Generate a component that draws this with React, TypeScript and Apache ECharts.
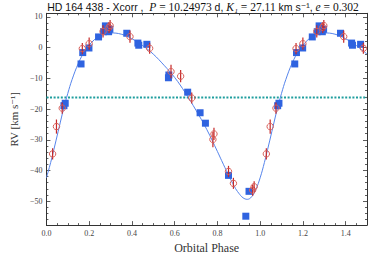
import React, { useEffect, useRef } from "react";
import * as echarts from "echarts";

// Model RV curve (phase, km/s)
const curvePhase = [0, 0.02, 0.04, 0.06, 0.08, 0.1, 0.12, 0.15, 0.18, 0.2, 0.25, 0.3, 0.35, 0.4, 0.45, 0.5, 0.55, 0.6, 0.65, 0.7, 0.75, 0.8, 0.82, 0.85, 0.88, 0.9, 0.92, 0.94, 0.96, 0.98, 1.0];
const curveRV = [-42.4, -37.4, -31.7, -25.8, -20.0, -14.9, -10.4, -5.0, -1.0, 0.9, 3.9, 4.8, 4.4, 2.9, 0.7, -2.1, -5.7, -9.7, -14.7, -20.4, -26.6, -33.8, -36.8, -41.2, -45.3, -47.4, -48.9, -49.4, -48.6, -46.2, -42.4];

// Blue squares
const bluePhase = [0.082, 0.088, 0.162, 0.17, 0.199, 0.244, 0.267, 0.276, 0.291, 0.297, 0.376, 0.428, 0.432, 0.47, 0.571, 0.573, 0.661, 0.719, 0.744, 0.852, 0.933, 0.948];
const blueRV = [-18.9, -18.1, -5.3, -1.6, -0.1, 3.5, 5.2, 7.1, 5.2, 6.0, 4.7, 1.5, 0.8, 1.1, -9.8, -8.9, -14.5, -21.2, -24.6, -41.6, -54.9, -46.8];

// Red circles with error bars
const redPhase = [0.029, 0.047, 0.074, 0.168, 0.2, 0.265, 0.293, 0.298, 0.391, 0.483, 0.583, 0.628, 0.68, 0.779, 0.784, 0.852, 0.875, 0.965, 0.972];
const redRV = [-34.6, -25.7, -19.7, -0.3, 1.3, 5.3, 6.6, 7.2, 3.6, -0.2, -7.8, -9.3, -16.4, -29.9, -28.1, -40.3, -44.2, -46.4, -45.3];
const redErr = [1.8, 2.3, 1.8, 1.8, 2.0, 2.0, 1.8, 1.8, 2.0, 1.8, 2.2, 2.0, 1.8, 2.5, 2.0, 1.8, 1.8, 1.8, 1.8];

const systemicV = -16.2;

const xMajor = [0, 0.2, 0.4, 0.6, 0.8, 1.0, 1.2, 1.4];
const xMinor = [0.05, 0.1, 0.15, 0.25, 0.3, 0.35, 0.45, 0.5, 0.55, 0.65, 0.7, 0.75, 0.85, 0.9, 0.95, 1.05, 1.1, 1.15, 1.25, 1.3, 1.35, 1.45];
const yMajor = [-50, -40, -30, -20, -10, 0, 10];
const yMinor = [-56, -54, -52, -48, -46, -44, -42, -38, -36, -34, -32, -28, -26, -24, -22, -18, -16, -14, -12, -8, -6, -4, -2, 2, 4, 6, 8];

const X_MIN = 0, X_MAX = 1.5, Y_MIN = -57.8, Y_MAX = 11.2;

const SERIF = "'Liberation Serif', 'DejaVu Serif', serif";
const SANS = "'Liberation Sans', 'DejaVu Sans', sans-serif";
const AX = "#333";

function withRepeat(ph: number[], vals: number[][]): number[][] {
  const out: number[][] = [];
  ph.forEach((p, i) => out.push([p, ...vals.map((v) => v[i])]));
  ph.forEach((p, i) => {
    if (p + 1 <= X_MAX) out.push([p + 1, ...vals.map((v) => v[i])]);
  });
  return out;
}

export default function App() {
  const ref = useRef<HTMLDivElement>(null);
  useEffect(() => {
    if (!ref.current) return;
    const chart = echarts.init(ref.current, undefined, { renderer: "svg" });

    const curveData: number[][] = curvePhase.map((p, i) => [p, curveRV[i]]);
    curvePhase.forEach((p, i) => {
      if (p > 0 && p + 1 <= X_MAX) curveData.push([p + 1, curveRV[i]]);
    });
    const blueData = withRepeat(bluePhase, [blueRV]);
    const redData = withRepeat(redPhase, [redRV, redErr]);

    const fmtMinus = (v: number) => (v < 0 ? "\u2212" + Math.abs(v) : String(v));

    const mkX = (pos: "bottom" | "top", ticks: number[], len: number, labels: boolean, line: boolean) => ({
      type: "value",
      min: X_MIN,
      max: X_MAX,
      position: pos,
      gridIndex: 0,
      axisLine: { show: line, onZero: false, lineStyle: { color: AX, width: 1 } },
      axisTick: { show: true, inside: true, length: len, customValues: ticks, lineStyle: { color: AX, width: 0.8 } },
      axisLabel: labels
        ? { show: true, customValues: xMajor, formatter: (v: number) => v.toFixed(1), fontFamily: SERIF, fontSize: 8, color: "#444", margin: 4 }
        : { show: false },
      splitLine: { show: false },
    });
    const mkY = (pos: "left" | "right", ticks: number[], len: number, labels: boolean, line: boolean) => ({
      type: "value",
      min: Y_MIN,
      max: Y_MAX,
      position: pos,
      gridIndex: 0,
      axisLine: { show: line, onZero: false, lineStyle: { color: AX, width: 1 } },
      axisTick: { show: true, inside: true, length: len, customValues: ticks, lineStyle: { color: AX, width: 0.8 } },
      axisLabel: labels
        ? { show: true, customValues: yMajor, formatter: fmtMinus, fontFamily: SERIF, fontSize: 8, color: "#444", margin: 4 }
        : { show: false },
      splitLine: { show: false },
    });

    const xAxes: any[] = [
      mkX("bottom", xMajor, 4, true, true),
      mkX("bottom", xMinor, 2, false, false),
      mkX("top", xMajor, 4, false, true),
      mkX("top", xMinor, 2, false, false),
    ];
    xAxes[0].name = "Orbital Phase";
    xAxes[0].nameLocation = "middle";
    xAxes[0].nameGap = 8;
    xAxes[0].nameTextStyle = { fontFamily: SERIF, fontSize: 12, color: "#333", verticalAlign: "top" };

    const yAxes: any[] = [
      mkY("left", yMajor, 4, true, true),
      mkY("left", yMinor, 2, false, false),
      mkY("right", yMajor, 4, false, true),
      mkY("right", yMinor, 2, false, false),
    ];
    yAxes[0].name = "RV [km s\u207B\u00B9]";
    yAxes[0].nameLocation = "middle";
    yAxes[0].nameGap = 26;
    yAxes[0].nameRotate = 90;
    yAxes[0].nameTextStyle = { fontFamily: SERIF, fontSize: 11, color: "#333" };

    chart.setOption({
      animation: false,
      backgroundColor: "#fff",
      title: {
        text:
          "{s|HD 164 438 - Xcorr ,  }{i|P}{m| = 10.24973 }{s|d, }{i|K\u2081}{m| = 27.11 }{s|km s\u207B\u00B9, }{i|e}{m| = 0.302}",
        left: 203,
        top: 1,
        textAlign: "center",
        padding: 0,
        textStyle: {
          fontWeight: "normal",
          rich: {
            s: { fontFamily: SANS, fontSize: 10.5, fontWeight: "normal", color: "#111" },
            i: { fontFamily: SERIF, fontStyle: "italic", fontWeight: "normal", fontSize: 11.5, color: "#111" },
            m: { fontFamily: SERIF, fontSize: 11.5, fontWeight: "normal", color: "#111" },
          },
        },
      },
      grid: { left: 37.7, right: 7, top: 13.3, bottom: 23.7, containLabel: false },
      xAxis: xAxes,
      yAxis: yAxes,
      series: [
        {
          type: "line",
          data: [[X_MIN, systemicV], [X_MAX, systemicV]],
          showSymbol: false,
          lineStyle: { color: "#1f9e9e", width: 2, type: [2, 1.6] },
          z: 1,
          silent: true,
        },
        {
          type: "line",
          data: curveData,
          showSymbol: false,
          smooth: 0.4,
          lineStyle: { color: "#5584ec", width: 1 },
          z: 2,
          silent: true,
        },
        {
          type: "scatter",
          data: blueData,
          symbol: "rect",
          symbolSize: 7,
          itemStyle: { color: "#2f63e0", opacity: 1 },
          z: 3,
        },
        {
          type: "custom",
          data: redData,
          encode: { x: 0, y: 1 },
          z: 4,
          renderItem: (params: any, api: any) => {
            const x = api.value(0);
            const y = api.value(1);
            const e = api.value(2);
            const top = api.coord([x, y + e]);
            const bot = api.coord([x, y - e]);
            const c = api.coord([x, y]);
            return {
              type: "group",
              children: [
                { type: "line", shape: { x1: top[0], y1: top[1], x2: bot[0], y2: bot[1] }, style: { stroke: "#c62828", lineWidth: 1.2 } },
                { type: "circle", shape: { cx: c[0], cy: c[1], r: 3.2 }, style: { fill: "none", stroke: "#d9605a", lineWidth: 1 } },
              ],
            };
          },
        },
      ],
    });
    return () => chart.dispose();
  }, []);
  return <div ref={ref} style={{ position: "fixed", left: 0, top: 0, width: 374, height: 259 }} />;
}
